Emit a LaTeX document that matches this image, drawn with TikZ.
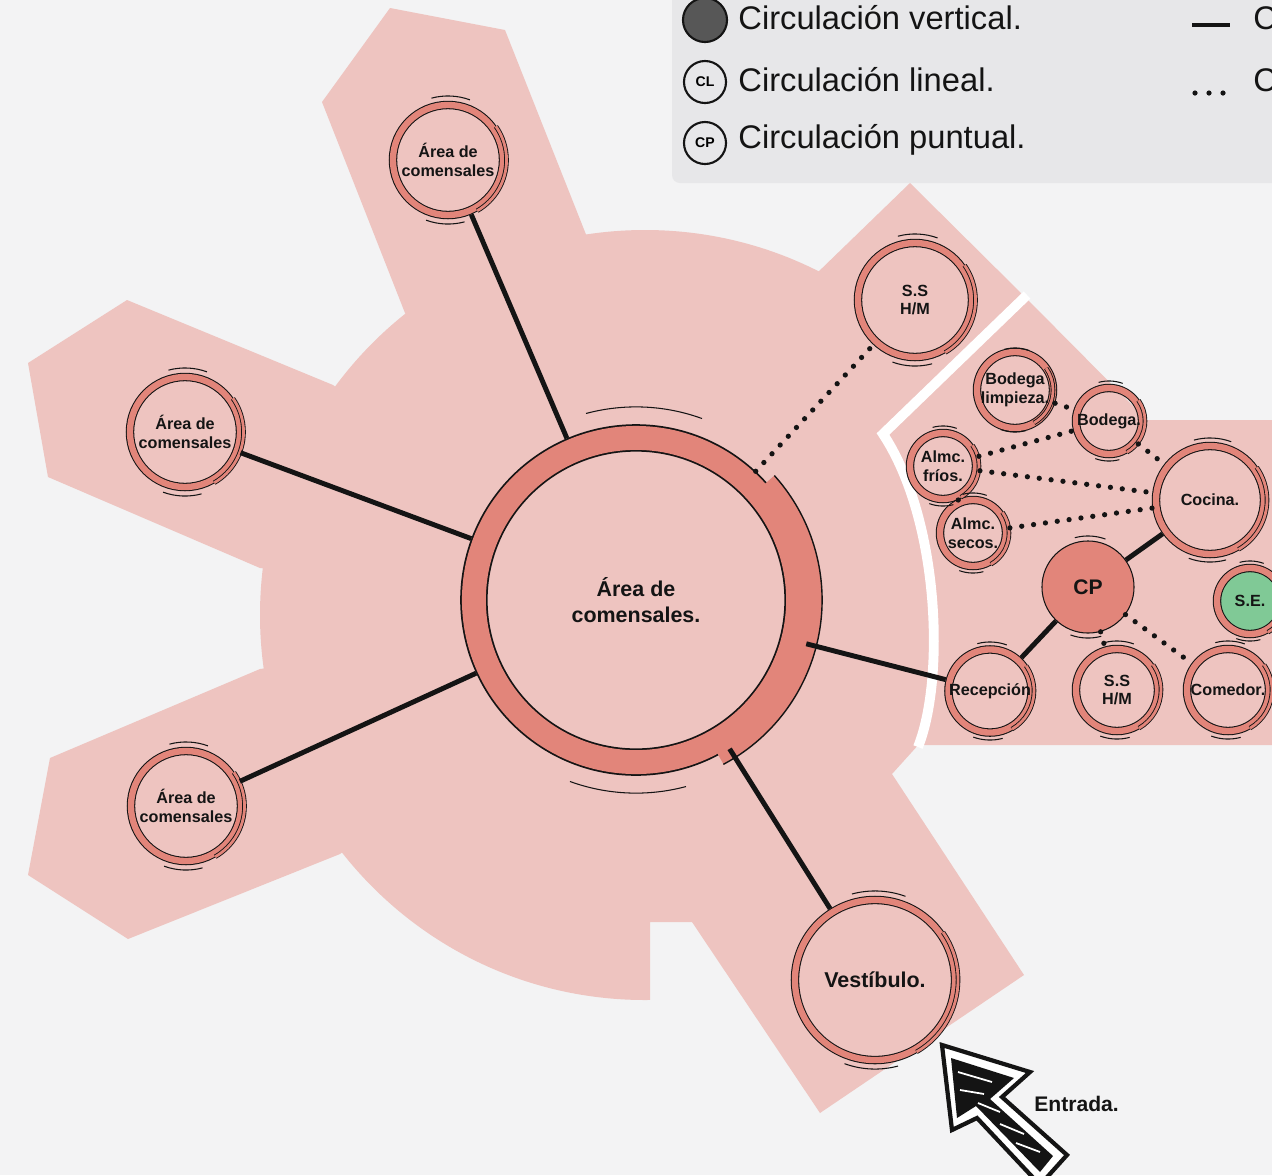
\documentclass[tikz,border=0pt]{standalone}
\usepackage{fontspec}
\setmainfont{Liberation Sans}
\definecolor{paper}{HTML}{F3F3F4}
\definecolor{zone}{HTML}{EEC4C0}
\definecolor{salmon}{HTML}{E2857A}
\definecolor{ink}{HTML}{141414}
\definecolor{legbox}{HTML}{E7E7E9}
\definecolor{vgray}{HTML}{575757}
\definecolor{segreen}{HTML}{80C996}

\begin{document}
\begin{tikzpicture}[x=0.01cm, y=0.01cm, line width=0.8pt,
  ring/.style={circle, draw=ink, line width=0.3pt, double=salmon,
    double distance=1.8pt, outer sep=1.2pt, inner sep=0pt, align=center,
    minimum size=#1, text=ink, font=\fontsize{4.6pt}{5.3pt}\selectfont\bfseries},
  ringbig/.style={ring=#1, line width=0.5pt, double distance=6.8pt,
    outer sep=3.9pt, font=\fontsize{6.1pt}{7.3pt}\selectfont\bfseries},
  cpnode/.style={circle, draw=ink, line width=0.3pt, fill=salmon,
    inner sep=0pt, minimum size=#1, text=ink,
    font=\fontsize{6pt}{7pt}\selectfont\bfseries},
  smear/.style={draw=ink, line width=0.25pt, double=salmon, double distance=#1},
  legsym/.style={circle, draw=ink, line width=0.6pt, inner sep=0pt,
    minimum size=0.42cm, font=\fontsize{4pt}{4pt}\selectfont\bfseries},
  legtext/.style={anchor=west, inner sep=0pt, text=ink,
    font=\fontsize{9.3pt}{11pt}\selectfont},
  link/.style={draw=ink, line width=1.4pt},
  dlink/.style={draw=ink, line width=1.5pt, line cap=round,
    dash pattern=on 0pt off 3.4pt}]
\useasboundingbox (0,0) rectangle (1272,-1175);
\fill[paper] (0,0) rectangle (1272,-1175);

% ---------- pink zones ----------
\begin{scope}
  \clip (0,0) -- (1272,0) -- (1272,-743) -- (920,-743) -- (892,-774)
        -- (692,-922) -- (650,-922) -- (650,-1175) -- (0,-1175) -- cycle;
  \fill[zone] (645,-615) circle (385);
\end{scope}
% arms
\fill[zone] (405,-313) -- (322,-102) -- (390,-8) -- (505,-30) -- (587,-237)
      -- (645,-615) -- cycle;
\fill[zone] (333,-385) -- (127,-300) -- (28,-363) -- (48,-477) -- (260,-568)
      -- (645,-615) -- cycle;
\fill[zone] (260,-669) -- (50,-758) -- (28,-875) -- (128,-939) -- (340,-854)
      -- (645,-615) -- cycle;
\fill[zone] (815,-275) -- (910,-183) -- (1025,-297) -- (883,-434)
      -- (700,-560) -- cycle;
\fill[zone] (692,-922) -- (820,-1113) -- (1024,-975) -- (892,-774)
      -- (700,-650) -- cycle;
% kitchen block, white gap on its inner side
\fill[zone] (883,-434) -- (1025,-297) -- (1147,-420) -- (1300,-420) -- (1300,-745)
      -- (918,-745) .. controls (945,-680) and (940,-520) .. (883,-434) -- cycle;
\draw[white, line width=2.8pt] (918,-747) .. controls (945,-680) and (940,-520)
      .. (883,-434) -- (1027,-295);

% ---------- rooms ----------
\node[ringbig=3.24cm] (cen) at (636,-600) {Área de\\comensales.};
\node[ring=1.10cm] (top) at (448,-160) {Área de\\comensales};
\node[ring=1.10cm] (left) at (185,-432) {Área de\\comensales};
\node[ring=1.10cm] (lowleft) at (186,-806) {Área de\\comensales};
\node[ring=1.14cm] (ssup) at (915,-300) {S.S\\H/M};
\node[ring=1.60cm, font=\fontsize{6.1pt}{7pt}\selectfont\bfseries] (vest)
      at (875,-980) {Vestíbulo.};
% kitchen side
\node[ring=0.70cm] (bodl) at (1015,-390) {Bodega\\limpieza.};
\node[ring=0.66cm] (bod) at (1109,-421) {Bodega.};
\node[ring=0.66cm] (frios) at (943,-466) {Almc.\\fríos.};
\node[ring=0.66cm] (secos) at (973,-533) {Almc.\\secos.};
\node[ring=1.08cm] (cocina) at (1210,-500) {Cocina.};
\node[cpnode=0.92cm] (cp) at (1088,-587) {CP};
\node[ring=0.66cm, fill=segreen] (se) at (1250,-601) {S.E.};
\node[ring=0.82cm] (recep) at (990,-691) {Recepción};
\node[ring=0.82cm] (sslow) at (1117,-690) {S.S\\H/M};
\node[ring=0.82cm] (comedor) at (1228,-690) {Comedor.};

% sketchy strokes round the rings
\foreach \n/\s in {top/0.585, left/0.585, lowleft/0.585, ssup/0.605, vest/0.83,
    bodl/0.38, bod/0.36, frios/0.36, secos/0.36, cocina/0.57,
    recep/0.44, sslow/0.44, comedor/0.44, se/0.36}
  \draw[smear=0.8pt] (\n.center) ++(-60:\s cm) arc (-60:35:\s cm);
\draw[salmon, line width=4.6pt] (cen.center) ++(-62:1.78cm) arc (-62:42:1.78cm);
\draw[ink, line width=0.4pt] (cen.center) ++(-62:1.86cm) arc (-62:42:1.86cm);
\foreach \n/\r in {top/0.64, left/0.64, lowleft/0.64, ssup/0.66, vest/0.89,
    bodl/0.42, bod/0.40, frios/0.40, secos/0.40, cocina/0.62, cp/0.51,
    recep/0.49, sslow/0.49, comedor/0.49, se/0.40, cen/1.93}
{
  \draw[ink, line width=0.3pt] (\n.center) ++(105:\r cm) arc (105:70:\r cm);
  \draw[ink, line width=0.3pt] (\n.center) ++(-75:\r cm) arc (-75:-110:\r cm);
}

% ---------- connections ----------
\draw[link] (cen) -- (top);
\draw[link] (cen) -- (left);
\draw[link] (cen) -- (lowleft);
\draw[link] (cen) -- (vest);
\draw[link] (cen) -- (recep);
\draw[link] (recep) -- (cp);
\draw[link] (cp) -- (cocina);
\draw[dlink] (cen) -- (ssup);
\draw[dlink] (bodl) -- (bod);
\draw[dlink] (frios) -- (bod);
\draw[dlink] (frios) -- (cocina);
\draw[dlink] (secos) -- (cocina);
\draw[dlink] (frios) -- (secos);
\draw[dlink] (bod) -- (cocina);
\draw[dlink] (cp) -- (sslow);
\draw[dlink] (cp) -- (comedor);

% ---------- legend ----------
\fill[legbox, rounded corners=0.08cm] (672,10) rectangle (1300,-183);
\node[legsym, fill=vgray, minimum size=0.44cm] (lv) at (705,-20) {};
\node[legtext] at (737,-18) {Circulación vertical.};
\node[legsym] (lcl) at (705,-82) {CL};
\node[legtext] at (737,-80) {Circulación lineal.};
\node[legsym] (lcp) at (705,-143) {CP};
\node[legtext] at (737,-140) {Circulación puntual.};
\coordinate (da) at (1192,-25);
\coordinate (db) at (1230,-25);
\draw[ink, line width=1.4pt] (da) -- (db);
\node[legtext] at (1252,-18) {C};
\foreach \x in {1195,1209,1223}
  \fill[ink] (\x,-93) circle (2.6);
\node[legtext] at (1252,-80) {C};

% ---------- entrance ----------
\filldraw[draw=ink, fill=white, line width=1.2pt, line join=miter]
  (942,-1045) -- (1030,-1072) -- (1002,-1097) -- (1067,-1155) -- (1040,-1185)
  -- (977,-1118) -- (952,-1130) -- cycle;
\fill[ink] (951,-1058) -- (1014,-1078) -- (990,-1099) -- (1053,-1156)
  -- (1040,-1172) -- (976,-1106) -- (957,-1118) -- cycle;
\foreach \a/\b in {{958,-1072}/{992,-1082}, {960,-1090}/{984,-1094},
    {978,-1103}/{1000,-1112}, {1000,-1124}/{1024,-1134},
    {1016,-1143}/{1040,-1152}}
  \draw[white, line width=0.5pt] (\a) -- (\b);
\node[anchor=west, inner sep=0pt, text=ink,
      font=\fontsize{6pt}{7pt}\selectfont\bfseries] (entrada) at (1033,-1104) {Entrada.};
\end{tikzpicture}
\end{document}
